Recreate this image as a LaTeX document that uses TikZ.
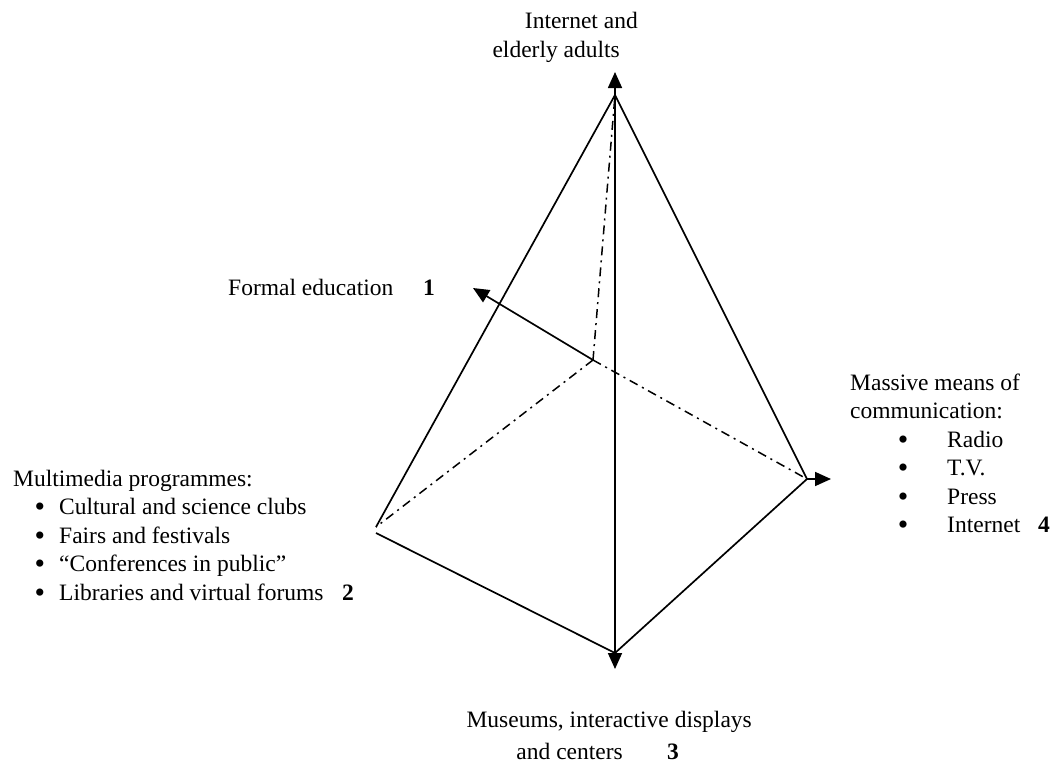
\documentclass[tikz,border=0pt]{standalone}
\usepackage{fontspec}
\setmainfont{Liberation Serif}
\usetikzlibrary{arrows.meta}
\begin{document}
\begin{tikzpicture}[x=1pt,y=-1pt,
  edge/.style={line width=1.7pt},
  hidden/.style={line width=1.5pt, dash pattern=on 9pt off 5pt on 2pt off 5pt},
  tip/.style={-{Triangle[length=16pt,width=14pt]}},
  lbl/.style={inner sep=0pt, font=\fontsize{23.5}{28.5}\selectfont},
  bul/.style={inner sep=0pt, font=\fontsize{30}{30}\selectfont},
  num/.style={inner sep=0pt, font=\fontsize{23.5}{28.5}\selectfont\bfseries}]
\useasboundingbox (0,0) rectangle (1060,763);
% vertices
\coordinate (A) at (615,95);
\coordinate (C) at (593,360);
\coordinate (L1) at (376,527);
\coordinate (L2) at (376,533);
\coordinate (B) at (615,653);
\coordinate (R) at (807,479);
% arrow ends
\coordinate (Atip) at (615,72);
\coordinate (Btip) at (615,669);
\coordinate (Rtip) at (831,479);
\coordinate (Ftip) at (473,288);
% hidden edges
\draw[hidden] (C) -- (A);
\draw[hidden] (C) -- (L1);
\draw[hidden] (C) -- (R);
% visible edges
\draw[edge] (A) -- (L1);
\draw[edge] (A) -- (R);
\draw[edge] (A) -- (B);
\draw[edge] (L2) -- (B);
\draw[edge] (B) -- (R);
% arrows
\draw[edge,tip] (A) -- (Atip);
\draw[edge,tip] (B) -- (Btip);
\draw[edge,tip] (R) -- (Rtip);
\draw[edge,tip] (C) -- (Ftip);
% top label
\node[lbl,anchor=base east] (t1) at (638,28) {Internet and};
\node[lbl,anchor=base east] (t2) at (620,57) {elderly adults};
% formal education
\node[lbl,anchor=base west] (f1) at (228,295) {Formal education};
\node[num,anchor=base west] (f2) at (423,295) {1};
% right list
\node[lbl,anchor=base west] (r0) at (850,390) {Massive means of};
\node[lbl,anchor=base west] (r1) at (850,418.5) {communication:};
\node[bul,anchor=base] (rb1) at (903,449) {•};
\node[bul,anchor=base] (rb2) at (903,477.5) {•};
\node[bul,anchor=base] (rb3) at (903,506) {•};
\node[bul,anchor=base] (rb4) at (903,534.5) {•};
\node[lbl,anchor=base west] (ri1) at (947,447) {Radio};
\node[lbl,anchor=base west] (ri2) at (947,475.5) {T.V.};
\node[lbl,anchor=base west] (ri3) at (947,504) {Press};
\node[lbl,anchor=base west] (ri4) at (947,532.5) {Internet};
\node[num,anchor=base west] (r4) at (1038,532.5) {4};
% left list
\node[lbl,anchor=base west] (l0) at (13,486) {Multimedia programmes:};
\node[bul,anchor=base] (lb1) at (40,516.5) {•};
\node[bul,anchor=base] (lb2) at (40,545) {•};
\node[bul,anchor=base] (lb3) at (40,573.5) {•};
\node[bul,anchor=base] (lb4) at (40,602) {•};
\node[lbl,anchor=base west] (li1) at (59,514.5) {Cultural and science clubs};
\node[lbl,anchor=base west] (li2) at (59,543) {Fairs and festivals};
\node[lbl,anchor=base west] (li3) at (59,571.5) {“Conferences in public”};
\node[lbl,anchor=base west] (li4) at (59,600) {Libraries and virtual forums};
\node[num,anchor=base west] (l2) at (342,600) {2};
% bottom label
\node[lbl,anchor=base east] (b1) at (752,727) {Museums, interactive displays};
\node[lbl,anchor=base east] (b2) at (623,759) {and centers};
\node[num,anchor=base west] (b3) at (667,759) {3};
\end{tikzpicture}
\end{document}
